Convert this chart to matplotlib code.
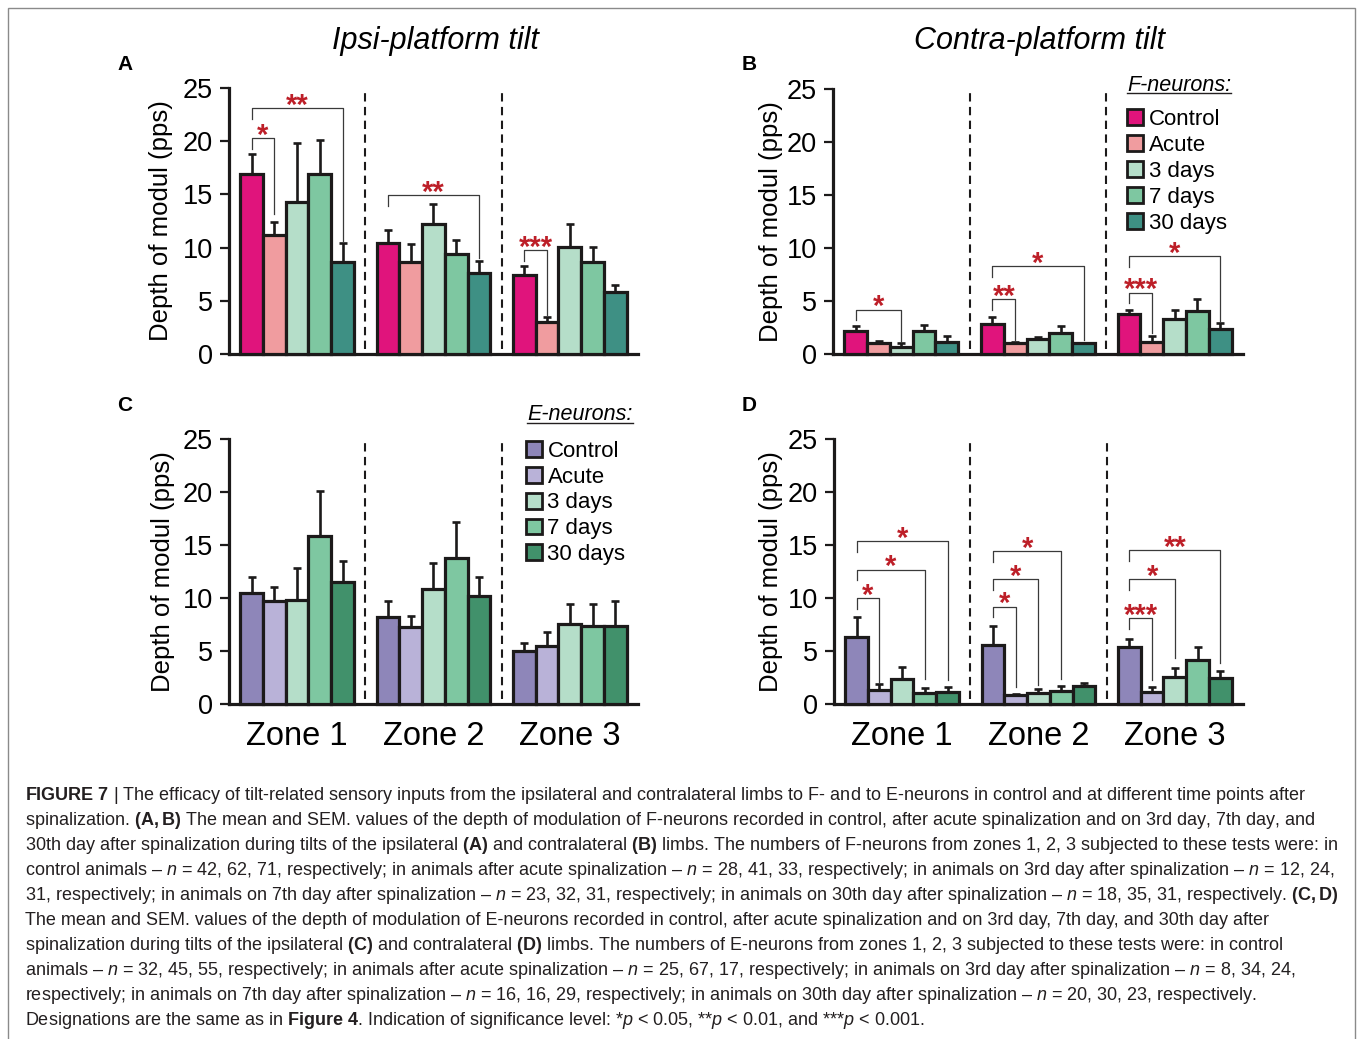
import matplotlib
matplotlib.use("Agg")
import matplotlib.pyplot as plt
from matplotlib.patches import Patch, Rectangle
from matplotlib.lines import Line2D
from matplotlib.transforms import IdentityTransform
import numpy as np

plt.rcParams['font.family'] = ['Liberation Sans', 'DejaVu Sans']
plt.rcParams['mathtext.fontset'] = 'custom'
plt.rcParams['mathtext.rm'] = 'Liberation Sans'
plt.rcParams['mathtext.it'] = 'Liberation Sans:italic'
plt.rcParams['mathtext.bf'] = 'Liberation Sans:bold'

zones = ["Zone 1", "Zone 2", "Zone 3"]
groups = ["Control", "Acute", "3 days", "7 days", "30 days"]

f_colors = ["#e0147c", "#f09c9f", "#b5dec9", "#7ec7a1", "#3e9084"]
e_colors = ["#8e86b9", "#b9b2d8", "#b5dec9", "#7ec7a1", "#41916b"]

# rows = zones, columns = groups
ipsi_f_mean = [[16.9, 11.2, 14.3, 16.9, 8.6],
               [10.4, 8.6, 12.2, 9.4, 7.6],
               [7.4, 3.0, 10.1, 8.6, 5.8]]
ipsi_f_sem = [[1.9, 1.25, 5.5, 3.2, 1.8],
              [1.3, 1.7, 1.9, 1.3, 1.15],
              [0.85, 0.5, 2.1, 1.5, 0.7]]

contra_f_mean = [[2.2, 1.05, 0.7, 2.2, 1.1],
                 [2.8, 1.05, 1.4, 2.0, 1.0],
                 [3.8, 1.15, 3.35, 4.1, 2.35]]
contra_f_sem = [[0.4, 0.2, 0.35, 0.55, 0.6],
                [0.7, 0.1, 0.2, 0.6, 0.07],
                [0.4, 0.55, 0.85, 1.1, 0.55]]

ipsi_e_mean = [[10.5, 9.7, 9.8, 15.9, 11.5],
               [8.25, 7.3, 10.9, 13.8, 10.2],
               [5.05, 5.5, 7.6, 7.4, 7.4]]
ipsi_e_sem = [[1.5, 1.35, 3.0, 4.25, 2.0],
              [1.5, 1.0, 2.4, 3.4, 1.8],
              [0.75, 1.3, 1.8, 2.0, 2.3]]

contra_e_mean = [[6.35, 1.3, 2.4, 1.0, 1.13],
                 [5.57, 0.85, 1.0, 1.23, 1.73],
                 [5.42, 1.16, 2.58, 4.16, 2.42]]
contra_e_sem = [[1.9, 0.6, 1.1, 0.55, 0.45],
                [1.8, 0.1, 0.42, 0.47, 0.22],
                [0.68, 0.41, 0.85, 1.22, 0.73]]

# significance brackets: (zone, from group, to group, bracket top, right leg end, stars)
ipsi_f_sig = [(0, 0, 1, 20.3, 13.2, "*"), (0, 0, 4, 23.1, 10.6, "**"),
              (1, 0, 4, 14.9, 9.0, "**"), (2, 0, 1, 9.75, 3.7, "***")]
contra_f_sig = [(0, 0, 2, 4.2, 1.16, "*"), (1, 0, 1, 5.2, 1.3, "**"),
                (1, 0, 4, 8.3, 1.3, "*"), (2, 0, 1, 5.8, 1.95, "***"),
                (2, 0, 4, 9.25, 3.05, "*")]
ipsi_e_sig = []
contra_e_sig = [(0, 0, 1, 10.0, 1.95, "*"), (0, 0, 3, 12.7, 2.4, "*"),
                (0, 0, 4, 15.4, 2.27, "*"), (1, 0, 1, 9.2, 1.64, "*"),
                (1, 0, 2, 11.8, 1.8, "*"), (1, 0, 3, 14.45, 2.4, "*"),
                (2, 0, 1, 8.1, 2.27, "***"), (2, 0, 2, 11.8, 4.3, "*"),
                (2, 0, 4, 14.55, 3.85, "**")]

caption = [
    r"$\mathbf{FIGURE\ 7}$ | The efficacy of tilt-related sensory inputs from the ipsilateral and contralateral limbs to F- and to E-neurons in control and at different time points after",
    r"spinalization. $\mathbf{(A,B)}$ The mean and SEM. values of the depth of modulation of F-neurons recorded in control, after acute spinalization and on 3rd day, 7th day, and",
    r"30th day after spinalization during tilts of the ipsilateral $\mathbf{(A)}$ and contralateral $\mathbf{(B)}$ limbs. The numbers of F-neurons from zones 1, 2, 3 subjected to these tests were: in",
    r"control animals – $n$ = 42, 62, 71, respectively; in animals after acute spinalization – $n$ = 28, 41, 33, respectively; in animals on 3rd day after spinalization – $n$ = 12, 24,",
    r"31, respectively; in animals on 7th day after spinalization – $n$ = 23, 32, 31, respectively; in animals on 30th day after spinalization – $n$ = 18, 35, 31, respectively. $\mathbf{(C,D)}$",
    r"The mean and SEM. values of the depth of modulation of E-neurons recorded in control, after acute spinalization and on 3rd day, 7th day, and 30th day after",
    r"spinalization during tilts of the ipsilateral $\mathbf{(C)}$ and contralateral $\mathbf{(D)}$ limbs. The numbers of E-neurons from zones 1, 2, 3 subjected to these tests were: in control",
    r"animals – $n$ = 32, 45, 55, respectively; in animals after acute spinalization – $n$ = 25, 67, 17, respectively; in animals on 3rd day after spinalization – $n$ = 8, 34, 24,",
    r"respectively; in animals on 7th day after spinalization – $n$ = 16, 16, 29, respectively; in animals on 30th day after spinalization – $n$ = 20, 30, 23, respectively.",
    r"Designations are the same as in $\mathbf{Figure\ 4}$. Indication of significance level: *$p$ < 0.05, **$p$ < 0.01, and ***$p$ < 0.001.",
]

EDGE = "#1c1a1a"
STAR = "#bd1f28"

fig = plt.figure(figsize=(13.58, 10.39), dpi=100)

fig.add_artist(Rectangle((0.0059, -0.01), 0.9919, 1.0023, transform=fig.transFigure,
                         fill=False, edgecolor="#8a8a8a", linewidth=1.0))


def draw_panel(ax, means, sems, colors, sig, show_zones, label_x):
    offs = np.arange(len(groups)) - 2
    for z in range(len(zones)):
        xs = z * 6 + offs
        ax.bar(xs, means[z], width=1.0, color=colors, edgecolor=EDGE,
               linewidth=2.3, zorder=3, clip_on=False)
        ax.errorbar(xs, means[z], yerr=[np.zeros(len(groups)), sems[z]], fmt="none",
                    ecolor=EDGE, elinewidth=1.9, capsize=3, capthick=1.9, zorder=2)
    ax.vlines([3, 9], 0.5, 24.8, colors=EDGE, linestyles=(0, (4, 2.6)), linewidth=1.5)
    for z, i, j, top, rb, lab in sig:
        xi = z * 6 + i - 2
        xj = z * 6 + j - 2
        ax.plot([xi, xi, xj, xj], [top - 1.0, top, top, rb], color="#3a3a3a",
                linewidth=0.9, zorder=4)
        ax.annotate(lab, ((xi + xj) / 2, top), xytext=(0, -4), textcoords="offset points",
                    ha="center", va="baseline", color=STAR, fontsize=21, fontweight="bold")
    ax.set_xlim(-3, 15)
    ax.set_ylim(0, 25)
    ax.set_yticks([0, 5, 10, 15, 20, 25])
    ax.tick_params(axis="y", labelsize=19.5, length=6.5, width=1.6, pad=5, color=EDGE)
    for s in ["top", "right"]:
        ax.spines[s].set_visible(False)
    for s in ["left", "bottom"]:
        ax.spines[s].set_linewidth(2.3)
        ax.spines[s].set_color(EDGE)
    if show_zones:
        ax.set_xticks([0, 6, 12])
        ax.set_xticklabels(zones, fontsize=23.5)
        ax.tick_params(axis="x", length=0, pad=12)
    else:
        ax.set_xticks([])
    ax.set_ylabel("Depth of modul (pps)", fontsize=18.5)
    ax.yaxis.set_label_coords(label_x, 0.5)


def add_legend(ax, colors, title, lx, ly, tx, ty):
    handles = [Patch(facecolor=c, edgecolor=EDGE, linewidth=2.0) for c in colors]
    ax.legend(handles, groups, loc="upper left", bbox_to_anchor=(lx, ly), frameon=False,
              fontsize=16, handlelength=0.72, handleheight=0.72, handletextpad=0.25,
              labelspacing=0.22, borderpad=0, borderaxespad=0)
    t = ax.text(tx, ty, title, transform=ax.transAxes, style="italic", fontsize=15.5,
                ha="left", va="center")
    return t


axA = fig.add_axes([0.1686, 0.6593, 0.3012, 0.2560])
axB = fig.add_axes([0.6134, 0.6593, 0.3019, 0.2548])
axC = fig.add_axes([0.1686, 0.3224, 0.3012, 0.2548])
axD = fig.add_axes([0.6141, 0.3224, 0.3012, 0.2548])

draw_panel(axA, ipsi_f_mean, ipsi_f_sem, f_colors, ipsi_f_sig, False, -0.137)
draw_panel(axB, contra_f_mean, contra_f_sem, f_colors, contra_f_sig, False, -0.122)
draw_panel(axC, ipsi_e_mean, ipsi_e_sem, e_colors, ipsi_e_sig, True, -0.132)
draw_panel(axD, contra_e_mean, contra_e_sem, e_colors, contra_e_sig, True, -0.125)

tB = add_legend(axB, f_colors, "F-neurons:", 0.717, 0.925, 0.717, 1.016)
tC = add_legend(axC, e_colors, "E-neurons:", 0.726, 0.995, 0.729, 1.092)

fig.text(435 / 1358, 1 - 49 / 1039, "Ipsi-platform tilt", ha="center", va="baseline",
         style="italic", fontsize=22)
fig.text(1039 / 1358, 1 - 49 / 1039, "Contra-platform tilt", ha="center", va="baseline",
         style="italic", fontsize=22)

for lab, x, y in [("A", 117, 70), ("B", 742, 70), ("C", 117, 411), ("D", 742, 411)]:
    fig.text(x / 1358, 1 - y / 1039, lab, ha="left", va="baseline", fontsize=15,
             fontweight="bold")

for k, line in enumerate(caption):
    fig.text(25 / 1358, 1 - (795 + k * 25.1) / 1039, line, ha="left", va="center",
             fontsize=13.0, color="#231f20")

# underline the legend titles
fig.canvas.draw()
for t in [tB, tC]:
    bb = t.get_window_extent()
    fig.add_artist(Line2D([bb.x0, bb.x1], [bb.y0 + 2.5, bb.y0 + 2.5], color="#231f20",
                          linewidth=1.0, transform=IdentityTransform()))

fig.savefig("out.png", dpi=100)
